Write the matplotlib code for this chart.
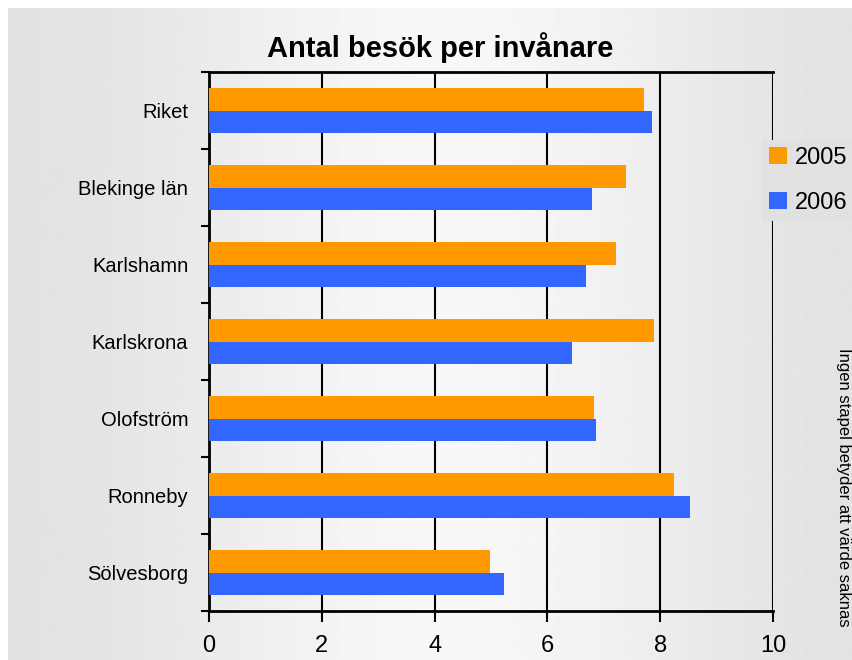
import numpy as np
import matplotlib.pyplot as plt

# Data
kommuner = ["Riket", "Blekinge län", "Karlshamn", "Karlskrona", "Olofström", "Ronneby", "Sölvesborg"]
v2005 = [7.71, 7.39, 7.22, 7.89, 6.83, 8.24, 4.98]
v2006 = [7.85, 6.79, 6.68, 6.44, 6.86, 8.53, 5.23]
xticks = [0, 2, 4, 6, 8, 10]

plt.rcParams['font.family'] = ['Liberation Sans', 'DejaVu Sans']

fig = plt.figure(figsize=(8.52, 6.6), dpi=100)
fig.patch.set_facecolor('white')

# gradient background (grey at edges, light in the middle)
bg = fig.add_axes([8 / 852, 0, 844 / 852, 652 / 660])
bg.set_facecolor('#dfdfdf')
xs = np.linspace(0, 1, 400)
shade = 0.875 + 0.095 * np.exp(-((xs - 0.52) / 0.33) ** 2)
bg.imshow(np.tile(shade, (2, 1)), cmap='gray', vmin=0, vmax=1, aspect='auto',
          extent=[-0.01, 1.01, -0.01, 1.01], interpolation='bilinear')
bg.set_xlim(0, 1)
bg.set_ylim(0, 1)
bg.set_xticks([])
bg.set_yticks([])
for s in bg.spines.values():
    s.set_visible(False)

ax = fig.add_axes([209 / 852, 1 - 611 / 660, 564 / 852, 539 / 660])
ax.set_facecolor('none')

y = np.arange(len(kommuner))
h = 0.286
ax.barh(y - h / 2, v2005, height=h, color='#FF9900', label='2005', zorder=3)
ax.barh(y + h / 2, v2006, height=h, color='#3366FF', label='2006', zorder=3)

ax.set_xlim(0, 10)
ax.set_ylim(len(kommuner) - 0.5, -0.5)
ax.set_xticks(xticks)
ax.set_xticklabels([str(t) for t in xticks], fontsize=17)
ax.set_yticks(y)
ax.set_yticklabels(kommuner, fontsize=14.5)
ax.set_yticks(np.arange(len(kommuner) + 1) - 0.5, minor=True)
ax.tick_params(axis='y', which='major', length=0, pad=15)
ax.tick_params(axis='y', which='minor', length=6, width=1.5, direction='out')
ax.tick_params(axis='x', length=8, width=1.5, direction='out', pad=9)

ax.grid(axis='x', color='black', linewidth=1.5, zorder=1)
for s in ['left', 'bottom', 'top']:
    ax.spines[s].set_linewidth(2)
ax.spines['right'].set_visible(False)

fig.text(440 / 852, 1 - 48 / 660, "Antal besök per invånare", fontsize=21,
         fontweight='bold', ha='center', va='center')

leg = fig.legend(loc='upper left', bbox_to_anchor=(762 / 852, 1 - 140 / 660), fontsize=17,
                 frameon=True, handlelength=0.75, handleheight=0.75,
                 handletextpad=0.35, labelspacing=0.95, borderpad=0.3,
                 borderaxespad=0)
leg.get_frame().set_facecolor('#e1e1e1')
leg.get_frame().set_edgecolor('none')
leg.get_frame().set_alpha(1)
leg.get_frame().set_boxstyle('square', pad=0)

fig.text(843 / 852, 1 - 487 / 660, "Ingen stapel betyder att värde saknas",
         rotation=-90, fontsize=12, ha='center', va='center')

fig.savefig('out.png', dpi=100)
